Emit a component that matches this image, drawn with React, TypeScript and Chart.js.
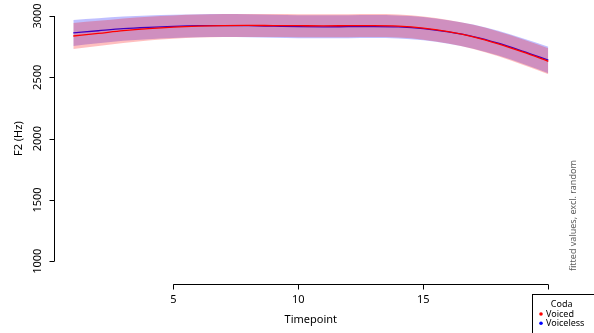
import React, { useEffect, useRef } from "react";
import { Chart, registerables } from "chart.js";

Chart.register(...registerables);

const timepoints = [1, 2, 3, 4, 5, 6, 7, 8, 9, 10, 11, 12, 13, 14, 15, 16, 17, 18, 19, 20];
const voicedFit = [2837, 2858, 2880, 2897, 2910, 2918, 2922, 2923, 2922, 2921, 2920, 2921, 2922, 2918, 2902, 2872, 2830, 2773, 2705, 2631];
const voicedCI = [107, 103, 100, 97, 95, 94, 94, 94, 94, 94, 94, 94, 94, 94, 95, 96, 98, 101, 104, 106];
const voicelessFit = [2862, 2880, 2897, 2908, 2916, 2921, 2922, 2921, 2917, 2913, 2912, 2913, 2914, 2911, 2897, 2870, 2832, 2778, 2712, 2641];
const voicelessCI = [106, 102, 99, 97, 95, 94, 94, 94, 94, 94, 94, 94, 94, 94, 95, 96, 98, 101, 104, 108];

const xTicks = [5, 10, 15, 20];
const yTicks = [1000, 1500, 2000, 2500, 3000];
const xLimits = [0.24, 20.76];
const yLimits = [920, 3080];

const xLabel = "Timepoint";
const yLabel = "F2 (Hz)";
const sideNote = "fitted values, excl. random";
const legendTitle = "Coda";
const groupNames = ["Voiced", "Voiceless"];
const groupColors = ["#ff0000", "#0000ff"];

const FONT = "'Noto Sans', 'Open Sans', sans-serif";

const pts = (vals: number[]) => timepoints.map((t, i) => ({ x: t, y: vals[i] }));

const axesPlugin = {
  id: "rAxes",
  afterDraw(chart: any) {
    const ctx = chart.ctx;
    const xs = chart.scales.x;
    const ys = chart.scales.y;
    const area = chart.chartArea;
    ctx.save();
    ctx.strokeStyle = "#000";
    ctx.fillStyle = "#000";
    ctx.lineWidth = 1;

    // Y axis
    const yAxisX = Math.round(area.left) + 0.5;
    ctx.beginPath();
    ctx.moveTo(yAxisX, ys.getPixelForValue(yTicks[0]));
    ctx.lineTo(yAxisX, ys.getPixelForValue(yTicks[yTicks.length - 1]));
    for (const v of yTicks) {
      const py = Math.round(ys.getPixelForValue(v)) + 0.5;
      ctx.moveTo(yAxisX, py);
      ctx.lineTo(yAxisX - 5, py);
    }
    ctx.stroke();
    ctx.font = `11px ${FONT}`;
    ctx.textAlign = "center";
    ctx.textBaseline = "middle";
    for (const v of yTicks) {
      const py = ys.getPixelForValue(v);
      ctx.save();
      ctx.translate(38, py);
      ctx.rotate(-Math.PI / 2);
      ctx.fillText(String(v), 0, 0);
      ctx.restore();
    }
    ctx.save();
    ctx.translate(19, (area.top + area.bottom) / 2);
    ctx.rotate(-Math.PI / 2);
    ctx.fillText(yLabel, 0, 0);
    ctx.restore();

    // X axis
    const xAxisY = Math.round(area.bottom + 13) + 0.5;
    ctx.beginPath();
    ctx.moveTo(xs.getPixelForValue(xTicks[0]), xAxisY);
    ctx.lineTo(xs.getPixelForValue(xTicks[xTicks.length - 1]), xAxisY);
    for (const v of xTicks) {
      const px = Math.round(xs.getPixelForValue(v)) + 0.5;
      ctx.moveTo(px, xAxisY);
      ctx.lineTo(px, xAxisY + 5);
    }
    ctx.stroke();
    for (const v of xTicks) {
      ctx.fillText(String(v), xs.getPixelForValue(v), xAxisY + 15);
    }
    ctx.fillText(xLabel, (area.left + area.right) / 2, xAxisY + 35);

    // side note
    ctx.save();
    ctx.fillStyle = "#5a5a5a";
    ctx.font = `9px ${FONT}`;
    ctx.textAlign = "left";
    ctx.translate(573, area.bottom);
    ctx.rotate(-Math.PI / 2);
    ctx.fillText(sideNote, 0, 0);
    ctx.restore();

    // legend
    const lx = 532.5;
    const ly = 294.5;
    ctx.fillStyle = "#fff";
    ctx.fillRect(lx, ly, 80, 60);
    ctx.strokeStyle = "#000";
    ctx.strokeRect(lx, ly, 80, 60);
    ctx.fillStyle = "#000";
    ctx.font = `9px ${FONT}`;
    ctx.textAlign = "center";
    ctx.fillText(legendTitle, 561.7, 304);
    ctx.textAlign = "left";
    groupNames.forEach((name, i) => {
      const yy = 314 + i * 9.3;
      ctx.fillStyle = groupColors[i];
      ctx.beginPath();
      ctx.arc(541, yy, 1.8, 0, Math.PI * 2);
      ctx.fill();
      ctx.fillStyle = "#000";
      ctx.fillText(name, 546, yy);
    });
    ctx.restore();
  },
};

export default function App() {
  const ref = useRef<HTMLCanvasElement | null>(null);
  useEffect(() => {
    if (!ref.current) return;
    const band = (fit: number[], ci: number[], sign: number) => fit.map((v, i) => v + sign * ci[i]);
    const common = {
      pointRadius: 0,
      cubicInterpolationMode: "monotone" as const,
    };
    const chart = new Chart(ref.current, {
      type: "line",
      data: {
        datasets: [
          {
            ...common,
            label: "voiceless upper",
            data: pts(band(voicelessFit, voicelessCI, 1)),
            borderColor: "rgba(0,0,0,0)",
            borderWidth: 0,
            fill: false,
            order: 10,
          },
          {
            ...common,
            label: "voiceless lower",
            data: pts(band(voicelessFit, voicelessCI, -1)),
            borderColor: "rgba(0,0,0,0)",
            borderWidth: 0,
            backgroundColor: "rgba(0,0,255,0.25)",
            fill: "-1",
            order: 9,
          },
          {
            ...common,
            label: groupNames[1],
            data: pts(voicelessFit),
            borderColor: groupColors[1],
            borderWidth: 1.3,
            fill: false,
            order: 8,
          },
          {
            ...common,
            label: "voiced upper",
            data: pts(band(voicedFit, voicedCI, 1)),
            borderColor: "rgba(0,0,0,0)",
            borderWidth: 0,
            fill: false,
            order: 7,
          },
          {
            ...common,
            label: "voiced lower",
            data: pts(band(voicedFit, voicedCI, -1)),
            borderColor: "rgba(0,0,0,0)",
            borderWidth: 0,
            backgroundColor: "rgba(255,0,0,0.25)",
            fill: "-1",
            order: 6,
          },
          {
            ...common,
            label: groupNames[0],
            data: pts(voicedFit),
            borderColor: groupColors[0],
            borderWidth: 1.3,
            fill: false,
            order: 5,
          },
        ],
      },
      options: {
        animation: false,
        responsive: false,
        devicePixelRatio: 1,
        layout: { padding: { left: 54.3, right: 594 - 567.3, top: 6.2, bottom: 333 - 271.1 } },
        scales: {
          x: { type: "linear", min: xLimits[0], max: xLimits[1], display: false },
          y: { type: "linear", min: yLimits[0], max: yLimits[1], display: false },
        },
        plugins: {
          legend: { display: false },
          tooltip: { enabled: false },
        },
      },
      plugins: [axesPlugin],
    });
    return () => chart.destroy();
  }, []);
  return (
    <div style={{ position: "fixed", left: 0, top: 0, width: 594, height: 333, background: "#fff" }}>
      <canvas ref={ref} width={594} height={333} style={{ display: "block", width: 594, height: 333 }} />
    </div>
  );
}
